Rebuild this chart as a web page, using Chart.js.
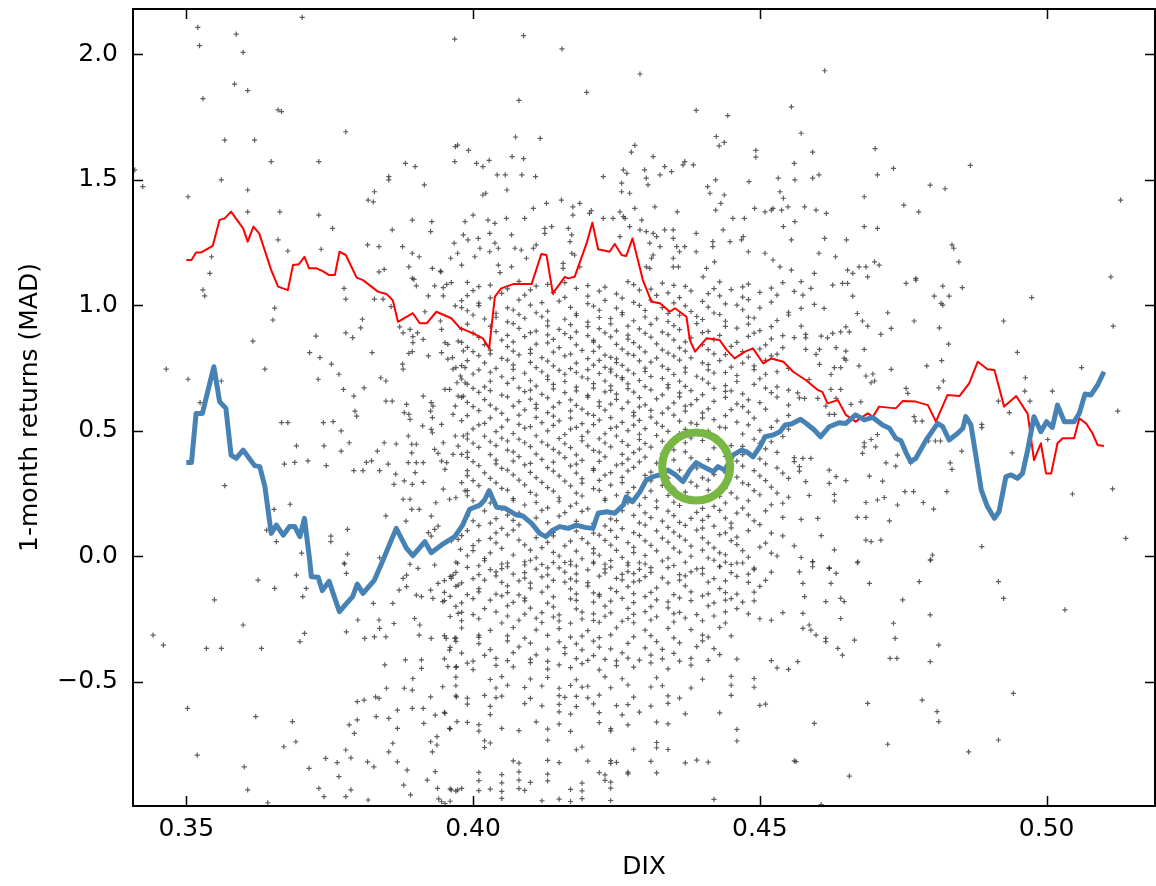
<!DOCTYPE html>
<html>
<head>
<meta charset="utf-8">
<title>DIX vs 1-month returns</title>
<script src="https://cdn.jsdelivr.net/npm/chart.js@4.4.1/dist/chart.umd.min.js"></script>
<style>
  html, body { margin: 0; padding: 0; background: #fff; }
  #wrap { width: 1156px; height: 886px; }
</style>
</head>
<body>
<div id="wrap"><canvas id="myChart" width="1156" height="886"></canvas></div>
<script>
// ticks
const xTicks = [0.35, 0.40, 0.45, 0.50];
const xTickLabels = ['0.35', '0.40', '0.45', '0.50'];
const yTicks = [-0.5, 0.0, 0.5, 1.0, 1.5, 2.0];
const yTickLabels = ['\u22120.5', '0.0', '0.5', '1.0', '1.5', '2.0'];

// red rolling line
const redDix = [0.350,0.3509,0.3517,0.3526,0.3546,0.3558,0.3567,0.3578,0.3599,0.3607,0.3617,0.3627,0.3648,0.366,0.3677,0.3686,0.3696,0.3706,0.3714,0.3727,0.3737,0.3749,0.3759,0.3767,0.3778,0.3797,0.3808,0.3834,0.3849,0.386,0.3869,0.3895,0.3907,0.3919,0.3936,0.3962,0.3977,0.400,0.4017,0.4028,0.4038,0.4049,0.407,0.4102,0.4119,0.4128,0.4139,0.416,0.4166,0.4177,0.4198,0.4208,0.4218,0.4238,0.4247,0.4259,0.4267,0.4278,0.4296,0.4311,0.4326,0.4343,0.4352,0.4372,0.4378,0.4387,0.4407,0.443,0.4442,0.4456,0.4474,0.4488,0.4506,0.452,0.4541,0.4558,0.458,0.4601,0.4609,0.4618,0.4636,0.465,0.4667,0.4688,0.4697,0.4708,0.4737,0.4749,0.4772,0.4793,0.4807,0.4827,0.4848,0.4865,0.488,0.4897,0.4909,0.4926,0.4947,0.4967,0.4978,0.499,0.4999,0.5008,0.5019,0.5028,0.5048,0.5057,0.5069,0.508,0.5089,0.510];
const redReturns = [1.18,1.18,1.21,1.21,1.236,1.34,1.346,1.373,1.306,1.253,1.313,1.286,1.14,1.074,1.06,1.16,1.163,1.193,1.147,1.147,1.137,1.12,1.12,1.213,1.20,1.11,1.10,1.054,1.045,1.02,0.934,0.968,0.928,0.928,0.974,0.948,0.91,0.888,0.868,0.828,1.034,1.067,1.084,1.084,1.204,1.20,1.047,1.113,1.107,1.113,1.247,1.329,1.223,1.213,1.244,1.20,1.196,1.266,1.10,1.014,1.008,0.974,0.988,0.954,0.861,0.815,0.868,0.861,0.822,0.788,0.815,0.828,0.768,0.788,0.775,0.735,0.702,0.662,0.655,0.609,0.622,0.563,0.536,0.569,0.556,0.596,0.589,0.618,0.616,0.602,0.536,0.642,0.638,0.689,0.775,0.745,0.742,0.596,0.638,0.567,0.383,0.45,0.33,0.33,0.45,0.47,0.47,0.549,0.529,0.49,0.443,0.439];

// blue rolling line
const blueDix = [0.350,0.3509,0.3517,0.3528,0.3548,0.3558,0.3569,0.3578,0.3587,0.3599,0.3619,0.3628,0.3637,0.3648,0.3657,0.3669,0.368,0.3689,0.3698,0.3706,0.3715,0.3718,0.373,0.3737,0.3749,0.3756,0.3767,0.3782,0.379,0.3798,0.3808,0.3828,0.3843,0.3866,0.3884,0.3895,0.3916,0.3927,0.3945,0.3968,0.3982,0.3994,0.4012,0.402,0.4028,0.4041,0.4056,0.4076,0.4087,0.4102,0.4116,0.4127,0.4139,0.4151,0.4166,0.418,0.4195,0.4209,0.4218,0.4233,0.4247,0.4262,0.4267,0.4278,0.4291,0.4302,0.4314,0.4326,0.434,0.4353,0.4366,0.4378,0.4389,0.4401,0.4419,0.4427,0.4439,0.4453,0.4468,0.4477,0.4488,0.45,0.4509,0.4523,0.4535,0.4544,0.4555,0.4571,0.4581,0.4595,0.4606,0.4621,0.4638,0.465,0.4667,0.4682,0.4697,0.4714,0.4726,0.4737,0.4746,0.4755,0.4763,0.4772,0.479,0.481,0.4819,0.483,0.4845,0.4854,0.4859,0.4868,0.4877,0.4886,0.4897,0.4909,0.4917,0.4929,0.4938,0.4949,0.4958,0.4967,0.4978,0.499,0.50,0.501,0.5019,0.5031,0.5048,0.5057,0.5067,0.5077,0.5089,0.510];
const blueReturns = [0.373,0.373,0.569,0.569,0.755,0.616,0.589,0.403,0.39,0.423,0.361,0.357,0.277,0.091,0.124,0.084,0.118,0.118,0.078,0.151,-0.015,-0.082,-0.084,-0.137,-0.10,-0.148,-0.221,-0.181,-0.161,-0.111,-0.148,-0.095,-0.015,0.111,0.031,0.002,0.058,0.014,0.045,0.078,0.125,0.187,0.204,0.224,0.261,0.195,0.191,0.164,0.16,0.131,0.091,0.078,0.104,0.118,0.111,0.124,0.115,0.111,0.171,0.177,0.171,0.204,0.237,0.217,0.257,0.304,0.317,0.324,0.343,0.324,0.297,0.343,0.373,0.357,0.337,0.357,0.343,0.403,0.423,0.416,0.396,0.436,0.476,0.483,0.496,0.523,0.527,0.546,0.529,0.503,0.476,0.516,0.532,0.529,0.563,0.543,0.553,0.523,0.51,0.47,0.46,0.412,0.377,0.39,0.463,0.529,0.516,0.463,0.49,0.51,0.556,0.523,0.396,0.264,0.197,0.151,0.177,0.317,0.324,0.31,0.33,0.423,0.556,0.496,0.536,0.513,0.602,0.536,0.536,0.569,0.646,0.642,0.682,0.735];

// green highlight circle
const circleDix = [0.4389];
const circleReturns = [0.357];

// daily observations [DIX, 1-month return]
const scatterPoints = [
[0.3520,2.107],[0.3523,2.034],[0.3587,2.08],[0.3599,2.007],[0.3584,1.881],[0.3607,1.855],[0.3529,1.823],[0.366,1.778],[0.3666,1.771],[0.3567,1.658],[0.3619,1.658],[0.3778,1.691],[0.3702,2.147],[0.3968,2.06],[0.3648,1.572],[0.3731,1.572],[0.3561,1.499],[0.3607,1.459],[0.3503,1.432],[0.3424,1.472],[0.341,1.539],[0.3607,1.372],[0.3663,1.372],[0.3731,1.359],[0.3755,1.306],[0.366,1.26],[0.3677,1.216],[0.3735,1.223],[0.3544,1.193],[0.3541,1.127],
[0.3817,1.419],[0.3826,1.412],[0.3828,1.452],[0.3853,1.512],[0.3853,1.499],[0.3882,1.565],[0.3899,1.552],[0.3915,1.479],[0.3968,1.572],[0.3969,1.632],[0.3973,1.638],[0.3859,1.30],[0.3894,1.339],[0.3928,1.333],[0.3926,1.293],[0.3816,1.24],[0.3836,1.233],[0.3877,1.233],[0.3894,1.207],[0.3906,1.193],[0.3961,1.187],[0.3967,1.247],[0.3973,1.207],[0.3836,1.133],[0.3845,1.143],[0.3888,1.153],[0.3929,1.147],[0.3944,1.133],[0.3894,1.107],
[0.4088,2.074],[0.4155,2.021],[0.4291,1.921],[0.4198,1.848],[0.408,1.816],[0.4389,1.776],[0.4444,1.755],[0.4555,1.79],[0.4572,1.685],[0.4074,1.67],[0.4117,1.665],[0.3992,1.617],[0.4006,1.565],[0.4017,1.552],[0.4028,1.577],[0.4068,1.592],[0.4088,1.584],[0.4042,1.519],[0.4056,1.519],[0.4085,1.519],[0.4109,1.512],[0.4059,1.459],[0.4017,1.439],[0.4022,1.446],
[0.4282,1.637],[0.4276,1.61],[0.4314,1.592],[0.4227,1.512],[0.4262,1.539],[0.4268,1.525],[0.4259,1.486],[0.4259,1.452],[0.4273,1.446],[0.4299,1.539],[0.4302,1.506],[0.4305,1.479],[0.4326,1.519],[0.4334,1.552],[0.4346,1.532],[0.4366,1.559],[0.4369,1.572],[0.4384,1.559],[0.4424,1.672],[0.4429,1.635],[0.4438,1.649],[0.4493,1.617],[0.4493,1.59],[0.456,1.565],[0.4481,1.492],[0.4409,1.472],[0.4413,1.446],[0.4423,1.499],[0.4438,1.439],[0.4432,1.406],[0.4423,1.379],[0.4356,1.372],[0.4317,1.392],[0.4294,1.339],[0.4282,1.386],[0.4256,1.372],[0.4262,1.353],[0.4206,1.377],[0.4203,1.366],[0.4186,1.406],[0.4174,1.392],[0.4174,1.359],[0.4154,1.419],[0.4128,1.406],[0.4105,1.386],[0.409,1.346],[0.4058,1.346],[0.4038,1.326],[0.4026,1.339],[0.400,1.359],[0.3986,1.333],
[0.4067,1.28],[0.4029,1.286],[0.3983,1.28],[0.3991,1.26],[0.4009,1.266],[0.4012,1.227],[0.4038,1.247],[0.4044,1.227],[0.4029,1.213],[0.4073,1.227],[0.4084,1.22],[0.4105,1.227],[0.411,1.24],[0.4093,1.187],[0.4067,1.153],[0.4044,1.16],[0.4047,1.13],[0.4003,1.193],[0.398,1.16],[0.4125,1.306],[0.4125,1.286],[0.4137,1.313],[0.4166,1.306],[0.4172,1.28],[0.4169,1.253],[0.4172,1.207],[0.4177,1.20],[0.4157,1.167],[0.4157,1.147],[0.4186,1.153],
[0.4227,1.346],[0.4244,1.346],[0.4256,1.273],[0.4265,1.346],[0.4273,1.313],[0.4291,1.30],[0.4302,1.293],[0.4308,1.247],[0.4314,1.286],[0.432,1.273],[0.4326,1.233],[0.4314,1.20],[0.4311,1.187],[0.4302,1.153],[0.4308,1.147],[0.4334,1.30],[0.4349,1.30],[0.4349,1.266],[0.4355,1.233],[0.4369,1.233],[0.4349,1.187],[0.4349,1.153],[0.4358,1.153],[0.436,1.213],[0.4389,1.286],[0.4407,1.147],[0.4418,1.253],[0.4418,1.233],[0.4421,1.173],[0.4436,1.30],[0.4453,1.346],[0.4448,1.253],[0.4468,1.26],[0.4471,1.273],[0.448,1.213],[0.4509,1.207],[0.4523,1.18],[0.4535,1.153],[0.4555,1.14],[0.4541,1.313],[0.4561,1.333],[0.4555,1.26],[0.452,1.379],[0.4523,1.386],[0.4541,1.426],[0.4535,1.452],[0.4549,1.392],[0.4538,1.379],[0.4561,1.499],[0.4532,1.506],[0.4509,1.372],[0.4491,1.386],[0.4473,1.346],[0.4389,1.213],[0.4401,1.113],
[0.4613,1.934],[0.4701,1.624],[0.4592,1.61],[0.4592,1.506],[0.4603,1.519],[0.4705,1.519],[0.4733,1.545],[0.4867,1.557],[0.4797,1.478],[0.4823,1.464],[0.4682,1.432],[0.4578,1.392],[0.4598,1.379],[0.4616,1.366],[0.4751,1.399],[0.4777,1.372],[0.5129,1.419],[0.4682,1.313],[0.4705,1.306],[0.4613,1.266],[0.4651,1.26],[0.4603,1.207],[0.4632,1.193],[0.4835,1.24],[0.4838,1.227],[0.4847,1.173],[0.4653,1.14],[0.4662,1.127],[0.4673,1.153],[0.4685,1.153],[0.4688,1.113],[0.470,1.173],[0.4708,1.16],[0.4595,1.127],[0.4772,1.107],[0.5112,1.113],
[0.3529,1.061],[0.3532,1.037],[0.3654,0.988],[0.3651,0.941],[0.3616,0.857],[0.3465,0.745],[0.3503,0.705],[0.3561,0.698],[0.3637,0.745],[0.3524,0.612],[0.3666,0.532],[0.3677,0.532],[0.3567,0.281],[0.3692,0.44],[0.3671,0.367],[0.3689,0.374],[0.3712,0.38],[0.3744,0.361],[0.3739,0.532],[0.3756,0.536],[0.377,0.499],[0.3784,0.452],[0.377,0.419],[0.374,0.44],[0.3715,0.811],[0.3733,0.791],[0.3726,0.877],[0.373,0.705],[0.3753,0.765],[0.3766,0.725],[0.3775,1.067],[0.3778,1.024],[0.3807,0.944],[0.3804,0.91],[0.3778,0.89],[0.379,0.871],[0.3824,0.811],[0.3828,1.024],[0.3843,1.024],[0.3857,0.994],
[0.3774,0.665],[0.3792,0.638],[0.381,0.671],[0.3794,0.578],[0.3797,0.558],[0.3839,0.711],[0.3848,0.698],[0.3848,0.618],[0.3859,0.618],[0.3814,0.374],[0.3823,0.38],[0.3837,0.341],[0.3808,0.341],[0.3792,0.341],[0.3845,0.452],[0.3833,0.419],[0.3866,0.447],[0.3852,0.367],[0.3865,0.327],[0.3862,0.286],[0.388,0.30],[0.3894,0.286],[0.3913,0.294],[0.3878,0.227],[0.389,0.227],[0.3893,0.187],[0.3848,0.161],[0.3883,0.14],[0.3906,0.187],[0.3899,0.333],[0.3913,0.373],[0.3901,0.373],[0.3887,0.373],[0.3893,0.412],[0.3893,0.446],[0.3901,0.446],[0.3887,0.479],[0.389,0.545],[0.3888,0.565],[0.388,0.572],[0.3884,0.605],[0.3913,0.638],[0.3927,0.612],[0.393,0.598],[0.3926,0.578],[0.3929,0.552],[0.3912,0.519],[0.3927,0.505],[0.3929,0.492],[0.3945,0.525],
[0.3948,0.452],[0.3933,0.426],[0.3939,0.41],[0.3945,0.379],[0.3954,0.373],[0.3965,0.406],[0.3974,0.439],[0.398,0.406],[0.3969,0.479],[0.3983,0.479],[0.3951,0.346],[0.3948,0.267],[0.3959,0.227],[0.397,0.233],[0.398,0.293],[0.3986,0.26],[0.3935,0.213],[0.3927,0.16],[0.3939,0.12],[0.3933,0.107],[0.3922,0.094],[0.3927,0.08],[0.3974,0.067],[0.3962,0.061],[0.3978,0.027],[0.3973,-0.028],[0.3933,-0.035],[0.3904,-0.048],[0.389,-0.032],[0.3837,-0.006],[0.3752,0.08],[0.3752,0.058],[0.3781,0.107],[0.3781,0.008],[0.3775,-0.028],[0.3701,0.012],[0.3681,0.207],[0.3653,0.187],[0.364,0.104],[0.3657,0.058],
[0.3903,0.89],[0.3895,0.875],[0.3895,0.851],[0.389,0.904],[0.3878,0.89],[0.3872,0.914],[0.3894,0.815],[0.3888,0.808],[0.3877,0.765],[0.3878,0.745],[0.3901,1.077],[0.3897,1.103],[0.3922,1.037],[0.3933,1.077],[0.3948,1.037],[0.3948,1.07],[0.3954,1.083],[0.3962,1.09],[0.3943,1.136],[0.3969,0.997],[0.398,0.99],[0.3943,0.937],[0.3945,0.904],[0.3951,0.851],[0.3956,0.844],[0.3974,0.857],[0.3983,0.818],[0.3945,0.811],[0.3956,0.785],[0.3964,0.791],[0.397,0.751],[0.3965,0.745],[0.3986,0.751],[0.3978,0.718],[0.3972,0.691],[0.3986,0.691],[0.3951,0.665],[0.3959,0.665],[0.3969,0.598],[0.3965,0.565],[0.3974,0.638],[0.3983,0.638],[0.3922,0.798],[0.3913,0.864],[0.3916,0.974],
[0.399,1.091],[0.403,1.080],[0.408,1.095],[0.413,1.083],[0.416,1.090],[0.420,1.078],[0.427,1.094],[0.428,1.082],[0.433,1.088],[0.435,1.079],[0.443,1.093],[0.448,1.084],[0.454,1.090],
[0.400,1.058],[0.405,1.047],[0.410,1.061],[0.414,1.050],[0.422,1.056],[0.425,1.045],[0.429,1.060],[0.434,1.049],[0.438,1.057],[0.441,1.046],[0.445,1.062],[0.450,1.051],[0.456,1.055],
[0.398,1.018],[0.401,1.008],[0.408,1.021],[0.412,1.010],[0.415,1.016],[0.420,1.006],[0.423,1.019],[0.428,1.011],[0.431,1.020],[0.435,1.009],[0.440,1.015],[0.444,1.005],[0.448,1.022],[0.452,1.012],
[0.399,0.978],[0.404,0.968],[0.407,0.981],[0.411,0.970],[0.413,0.976],[0.418,0.966],[0.422,0.980],[0.426,0.971],[0.430,0.979],[0.434,0.967],[0.438,0.975],[0.442,0.969],[0.447,0.982],[0.455,0.972],
[0.402,0.945],[0.406,0.934],[0.409,0.948],[0.413,0.937],[0.416,0.944],[0.420,0.933],[0.424,0.947],[0.428,0.938],[0.432,0.946],[0.434,0.935],[0.440,0.943],[0.444,0.936],[0.449,0.949],[0.453,0.939],
[0.398,0.905],[0.404,0.895],[0.408,0.908],[0.411,0.897],[0.415,0.904],[0.418,0.894],[0.422,0.907],[0.425,0.898],[0.429,0.906],[0.433,0.893],[0.436,0.903],[0.441,0.896],[0.446,0.909],[0.450,0.899],
[0.401,0.872],[0.405,0.861],[0.409,0.875],[0.414,0.864],[0.417,0.871],[0.421,0.860],[0.424,0.874],[0.427,0.865],[0.431,0.873],[0.435,0.862],[0.438,0.870],[0.442,0.863],[0.448,0.876],[0.452,0.866],[0.456,0.871],
[0.399,0.832],[0.403,0.821],[0.406,0.835],[0.410,0.824],[0.415,0.831],[0.419,0.820],[0.422,0.834],[0.426,0.825],[0.429,0.833],[0.433,0.822],[0.436,0.830],[0.441,0.823],[0.445,0.836],[0.450,0.826],[0.454,0.831],
[0.401,0.799],[0.405,0.788],[0.408,0.802],[0.412,0.791],[0.416,0.798],[0.420,0.787],[0.423,0.801],[0.424,0.792],[0.425,0.786],[0.428,0.800],[0.432,0.789],[0.435,0.797],[0.438,0.790],[0.444,0.803],[0.448,0.793],[0.452,0.798],
[0.398,0.759],[0.404,0.748],[0.407,0.762],[0.411,0.751],[0.414,0.758],[0.417,0.747],[0.421,0.761],[0.423,0.752],[0.424,0.745],[0.426,0.760],[0.430,0.749],[0.433,0.757],[0.437,0.750],[0.441,0.763],[0.445,0.753],[0.449,0.758],[0.455,0.748],
[0.400,0.726],[0.405,0.715],[0.409,0.729],[0.413,0.718],[0.416,0.725],[0.419,0.714],[0.422,0.728],[0.425,0.719],[0.426,0.712],[0.428,0.727],[0.431,0.716],[0.435,0.724],[0.439,0.717],[0.442,0.730],[0.446,0.720],[0.451,0.725],
[0.399,0.686],[0.402,0.675],[0.406,0.689],[0.411,0.678],[0.414,0.685],[0.418,0.674],[0.421,0.688],[0.424,0.679],[0.427,0.687],[0.430,0.676],[0.434,0.684],[0.437,0.677],[0.441,0.690],[0.444,0.680],[0.449,0.685],[0.453,0.675],
[0.401,0.653],[0.405,0.642],[0.409,0.656],[0.412,0.645],[0.416,0.652],[0.420,0.641],[0.423,0.655],[0.425,0.646],[0.428,0.654],[0.433,0.643],[0.436,0.651],[0.440,0.644],[0.444,0.657],[0.447,0.647],[0.452,0.652],
[0.399,0.613],[0.403,0.602],[0.408,0.616],[0.411,0.605],[0.415,0.612],[0.418,0.601],[0.422,0.615],[0.424,0.606],[0.427,0.614],[0.430,0.603],[0.435,0.611],[0.438,0.604],[0.442,0.617],[0.446,0.607],[0.450,0.612],[0.455,0.602],
[0.401,0.580],[0.405,0.569],[0.409,0.583],[0.413,0.572],[0.417,0.579],[0.420,0.568],[0.423,0.582],[0.428,0.573],[0.431,0.581],[0.433,0.570],[0.437,0.578],[0.440,0.571],[0.445,0.584],[0.448,0.574],
[0.398,0.540],[0.402,0.529],[0.406,0.543],[0.412,0.532],[0.415,0.539],[0.419,0.528],[0.422,0.542],[0.426,0.533],[0.429,0.541],[0.432,0.530],[0.436,0.538],[0.438,0.531],[0.442,0.544],[0.446,0.534],[0.453,0.539],
[0.400,0.507],[0.404,0.496],[0.409,0.510],[0.413,0.499],[0.417,0.506],[0.420,0.495],[0.424,0.509],[0.427,0.500],[0.430,0.508],[0.434,0.497],[0.437,0.505],[0.441,0.498],[0.444,0.511],[0.450,0.501],[0.455,0.506],
[0.399,0.467],[0.403,0.456],[0.405,0.470],[0.406,0.459],[0.408,0.466],[0.412,0.455],[0.415,0.469],[0.419,0.460],[0.422,0.468],[0.426,0.457],[0.429,0.465],[0.433,0.458],[0.438,0.471],[0.440,0.461],[0.449,0.466],[0.452,0.456],
[0.401,0.434],[0.406,0.423],[0.410,0.437],[0.414,0.426],[0.417,0.433],[0.421,0.422],[0.424,0.436],[0.429,0.427],[0.431,0.435],[0.435,0.424],[0.442,0.432],[0.444,0.425],[0.447,0.438],[0.451,0.428],
[0.399,0.394],[0.404,0.383],[0.408,0.397],[0.412,0.386],[0.416,0.393],[0.419,0.382],[0.423,0.396],[0.427,0.387],[0.430,0.395],[0.435,0.384],[0.438,0.392],[0.441,0.385],[0.444,0.398],[0.450,0.388],[0.456,0.393],
[0.401,0.361],[0.405,0.350],[0.409,0.364],[0.413,0.353],[0.417,0.360],[0.421,0.349],[0.425,0.363],[0.428,0.354],[0.433,0.362],[0.439,0.351],[0.447,0.359],[0.453,0.352],
[0.399,0.321],[0.403,0.310],[0.407,0.324],[0.411,0.313],[0.415,0.320],[0.419,0.309],[0.423,0.323],[0.426,0.314],[0.430,0.322],[0.434,0.311],[0.437,0.319],[0.440,0.312],[0.442,0.325],[0.446,0.315],[0.450,0.320],[0.455,0.310],
[0.401,0.281],[0.405,0.270],[0.409,0.284],[0.413,0.273],[0.417,0.280],[0.421,0.269],[0.424,0.283],[0.428,0.274],[0.433,0.282],[0.435,0.271],[0.439,0.279],[0.444,0.272],[0.448,0.285],[0.452,0.275],
[0.399,0.241],[0.407,0.230],[0.411,0.244],[0.415,0.233],[0.419,0.240],[0.423,0.229],[0.425,0.243],[0.430,0.234],[0.434,0.242],[0.438,0.231],[0.443,0.239],[0.446,0.232],[0.450,0.245],[0.455,0.235],
[0.401,0.201],[0.405,0.190],[0.409,0.204],[0.413,0.193],[0.417,0.200],[0.420,0.189],[0.429,0.203],[0.432,0.194],[0.436,0.202],[0.440,0.191],[0.442,0.199],[0.447,0.192],[0.452,0.205],
[0.399,0.161],[0.404,0.150],[0.406,0.164],[0.411,0.153],[0.415,0.160],[0.424,0.149],[0.428,0.163],[0.431,0.154],[0.435,0.162],[0.438,0.151],[0.441,0.159],[0.444,0.152],[0.448,0.165],[0.454,0.155],
[0.401,0.122],[0.405,0.111],[0.408,0.125],[0.416,0.114],[0.423,0.121],[0.426,0.110],[0.430,0.124],[0.434,0.115],[0.437,0.123],[0.440,0.112],[0.442,0.120],[0.445,0.113],[0.450,0.126],
[0.398,0.082],[0.403,0.071],[0.406,0.085],[0.411,0.074],[0.414,0.081],[0.419,0.070],[0.422,0.084],[0.425,0.075],[0.429,0.083],[0.433,0.072],[0.436,0.080],[0.440,0.073],[0.443,0.086],[0.446,0.076],[0.454,0.081],
[0.400,0.042],[0.405,0.031],[0.409,0.045],[0.412,0.034],[0.416,0.041],[0.421,0.030],[0.424,0.044],[0.428,0.035],[0.431,0.043],[0.435,0.032],[0.438,0.040],[0.442,0.033],[0.446,0.046],[0.450,0.036],[0.456,0.041],
[0.399,0.002],[0.402,-0.009],[0.407,0.005],[0.411,-0.006],[0.415,0.001],[0.419,-0.010],[0.422,0.004],[0.426,-0.005],[0.430,0.003],[0.434,-0.008],[0.438,0.000],[0.441,-0.007],[0.444,0.006],[0.448,-0.004],[0.453,0.001],
[0.401,-0.038],[0.405,-0.049],[0.409,-0.035],[0.413,-0.046],[0.418,-0.039],[0.423,-0.050],[0.427,-0.036],[0.431,-0.045],[0.435,-0.037],[0.440,-0.048],[0.443,-0.040],[0.449,-0.047],
[0.401,1.074],[0.406,1.065],[0.411,1.076],[0.418,1.067],[0.423,1.072],[0.431,1.064],[0.437,1.075],[0.442,1.066],[0.447,1.073],[0.452,1.068],
[0.399,1.038],[0.403,1.029],[0.409,1.040],[0.416,1.031],[0.420,1.036],[0.426,1.028],[0.432,1.039],[0.436,1.030],[0.443,1.037],[0.447,1.032],[0.453,1.040],
[0.401,0.998],[0.406,0.989],[0.410,1.000],[0.417,0.991],[0.421,0.996],[0.425,0.988],[0.429,0.999],[0.433,0.990],[0.437,0.997],[0.441,0.992],[0.446,1.000],[0.450,0.989],
[0.400,0.961],[0.404,0.952],[0.408,0.963],[0.412,0.954],[0.418,0.959],[0.422,0.951],[0.426,0.962],[0.430,0.953],[0.436,0.960],[0.439,0.955],[0.443,0.963],[0.448,0.952],[0.455,0.961],
[0.399,0.925],[0.403,0.916],[0.407,0.927],[0.413,0.918],[0.417,0.923],[0.420,0.915],[0.424,0.926],[0.427,0.917],[0.431,0.924],[0.435,0.919],[0.439,0.927],[0.444,0.916],[0.448,0.925],[0.452,0.915],
[0.400,0.889],[0.406,0.880],[0.410,0.891],[0.413,0.882],[0.416,0.887],[0.420,0.879],[0.423,0.890],[0.427,0.881],[0.430,0.888],[0.434,0.883],[0.440,0.891],[0.443,0.880],[0.449,0.889],[0.454,0.879],
[0.398,0.852],[0.402,0.843],[0.407,0.854],[0.411,0.845],[0.413,0.850],[0.418,0.842],[0.421,0.853],[0.425,0.844],[0.428,0.851],[0.432,0.846],[0.437,0.854],[0.440,0.843],[0.446,0.852],[0.451,0.842],
[0.400,0.815],[0.403,0.806],[0.407,0.817],[0.410,0.808],[0.414,0.813],[0.417,0.805],[0.421,0.816],[0.427,0.807],[0.430,0.814],[0.434,0.809],[0.437,0.817],[0.442,0.806],[0.447,0.815],[0.453,0.805],
[0.399,0.779],[0.402,0.770],[0.406,0.781],[0.410,0.772],[0.413,0.777],[0.418,0.769],[0.422,0.780],[0.425,0.771],[0.429,0.778],[0.431,0.773],[0.436,0.781],[0.440,0.770],[0.443,0.779],[0.447,0.769],[0.451,0.780],
[0.401,0.742],[0.403,0.733],[0.407,0.744],[0.412,0.735],[0.415,0.740],[0.418,0.732],[0.420,0.743],[0.424,0.734],[0.427,0.741],[0.430,0.736],[0.434,0.744],[0.437,0.733],[0.441,0.742],[0.444,0.732],[0.449,0.743],[0.453,0.735],
[0.398,0.706],[0.403,0.697],[0.407,0.708],[0.410,0.699],[0.413,0.704],[0.416,0.696],[0.420,0.707],[0.423,0.698],[0.426,0.705],[0.429,0.700],[0.433,0.708],[0.436,0.697],[0.440,0.706],[0.446,0.696],[0.450,0.707],
[0.400,0.669],[0.403,0.660],[0.408,0.671],[0.410,0.662],[0.414,0.667],[0.418,0.659],[0.421,0.670],[0.424,0.661],[0.427,0.668],[0.431,0.663],[0.434,0.671],[0.438,0.660],[0.442,0.669],[0.445,0.659],[0.451,0.670],[0.455,0.662],
[0.398,0.633],[0.402,0.624],[0.406,0.635],[0.410,0.626],[0.413,0.631],[0.417,0.623],[0.420,0.634],[0.425,0.625],[0.429,0.632],[0.432,0.627],[0.436,0.635],[0.439,0.624],[0.444,0.633],[0.448,0.623],[0.453,0.634],
[0.400,0.596],[0.404,0.587],[0.407,0.598],[0.411,0.589],[0.414,0.594],[0.419,0.586],[0.422,0.597],[0.426,0.588],[0.429,0.595],[0.434,0.590],[0.437,0.598],[0.441,0.587],[0.447,0.596],[0.451,0.586],
[0.399,0.560],[0.403,0.551],[0.408,0.562],[0.411,0.553],[0.414,0.558],[0.417,0.550],[0.421,0.561],[0.424,0.552],[0.428,0.559],[0.431,0.554],[0.435,0.562],[0.440,0.551],[0.444,0.560],[0.449,0.550],[0.455,0.561],
[0.401,0.523],[0.405,0.514],[0.408,0.525],[0.410,0.516],[0.414,0.521],[0.418,0.513],[0.421,0.524],[0.425,0.515],[0.428,0.522],[0.433,0.517],[0.439,0.525],[0.443,0.514],[0.448,0.523],[0.452,0.513],
[0.399,0.487],[0.402,0.478],[0.407,0.489],[0.411,0.480],[0.416,0.485],[0.419,0.477],[0.423,0.488],[0.425,0.479],[0.429,0.486],[0.432,0.481],[0.436,0.489],[0.442,0.478],[0.447,0.487],[0.454,0.477],
[0.400,0.450],[0.404,0.441],[0.409,0.452],[0.413,0.443],[0.416,0.448],[0.420,0.440],[0.423,0.451],[0.427,0.442],[0.430,0.449],[0.434,0.444],[0.437,0.452],[0.445,0.441],[0.450,0.450],
[0.399,0.414],[0.403,0.405],[0.407,0.416],[0.411,0.407],[0.415,0.412],[0.418,0.404],[0.422,0.415],[0.426,0.406],[0.428,0.413],[0.433,0.408],[0.437,0.416],[0.447,0.405],[0.453,0.414],
[0.400,0.377],[0.404,0.368],[0.407,0.379],[0.410,0.370],[0.414,0.375],[0.418,0.367],[0.422,0.378],[0.426,0.369],[0.429,0.376],[0.432,0.371],[0.446,0.379],[0.451,0.368],[0.456,0.377],
[0.399,0.341],[0.402,0.332],[0.406,0.343],[0.410,0.334],[0.414,0.339],[0.418,0.331],[0.421,0.342],[0.424,0.333],[0.427,0.340],[0.431,0.335],[0.436,0.343],[0.444,0.332],[0.449,0.341],[0.454,0.331],
[0.400,0.301],[0.404,0.292],[0.408,0.303],[0.412,0.294],[0.416,0.299],[0.419,0.291],[0.422,0.302],[0.426,0.293],[0.431,0.300],[0.438,0.295],[0.441,0.303],[0.447,0.292],[0.451,0.301],
[0.399,0.261],[0.403,0.252],[0.406,0.263],[0.410,0.254],[0.414,0.259],[0.418,0.251],[0.422,0.262],[0.427,0.253],[0.431,0.260],[0.437,0.255],[0.441,0.263],[0.445,0.252],[0.449,0.261],[0.453,0.251],
[0.400,0.221],[0.403,0.212],[0.407,0.223],[0.411,0.214],[0.415,0.219],[0.418,0.211],[0.423,0.222],[0.427,0.213],[0.432,0.220],[0.435,0.215],[0.439,0.223],[0.444,0.212],[0.448,0.221],[0.454,0.211],
[0.402,0.181],[0.408,0.172],[0.412,0.183],[0.416,0.174],[0.419,0.179],[0.422,0.171],[0.426,0.182],[0.430,0.173],[0.434,0.180],[0.439,0.175],[0.443,0.183],[0.446,0.172],[0.451,0.181],
[0.400,0.141],[0.403,0.132],[0.407,0.143],[0.413,0.134],[0.418,0.139],[0.421,0.131],[0.425,0.142],[0.429,0.133],[0.433,0.140],[0.436,0.135],[0.440,0.143],[0.445,0.132],[0.449,0.141],
[0.399,0.102],[0.404,0.093],[0.407,0.104],[0.414,0.095],[0.418,0.100],[0.421,0.092],[0.424,0.103],[0.428,0.094],[0.432,0.101],[0.435,0.096],[0.439,0.104],[0.444,0.093],[0.448,0.102],[0.452,0.092],
[0.401,0.062],[0.404,0.053],[0.408,0.064],[0.413,0.055],[0.417,0.060],[0.420,0.052],[0.423,0.063],[0.427,0.054],[0.430,0.061],[0.434,0.056],[0.437,0.064],[0.441,0.053],[0.445,0.062],[0.451,0.052],
[0.400,0.022],[0.403,0.013],[0.410,0.024],[0.414,0.015],[0.418,0.020],[0.421,0.012],[0.425,0.023],[0.428,0.014],[0.432,0.021],[0.436,0.016],[0.440,0.024],[0.443,0.013],[0.447,0.022],[0.452,0.012],
[0.402,-0.018],[0.406,-0.027],[0.410,-0.016],[0.414,-0.025],[0.417,-0.020],[0.421,-0.028],[0.424,-0.017],[0.429,-0.026],[0.433,-0.019],[0.437,-0.024],[0.442,-0.016],[0.447,-0.027],
[0.4572,1.094],[0.4589,1.067],[0.4575,1.04],[0.4627,1.08],[0.4644,1.087],[0.4653,1.087],[0.4662,1.036],[0.4595,1.003],[0.4572,0.987],[0.4612,0.987],[0.467,0.967],[0.4679,0.937],[0.4688,0.917],[0.4723,0.97],[0.4729,0.908],[0.4711,0.884],[0.4755,1.087],[0.4772,1.10],[0.4819,1.076],[0.4804,1.036],[0.483,1.036],[0.4816,1.007],[0.4819,1.0],[0.4853,1.07],[0.4769,0.937],[0.4813,0.91],[0.4974,1.03],[0.4925,0.937],[0.5116,0.917],
[0.4572,0.917],[0.458,0.884],[0.458,0.87],[0.4607,0.877],[0.4618,0.87],[0.4627,0.888],[0.4641,0.894],[0.465,0.914],[0.4656,0.894],[0.4633,0.831],[0.465,0.817],[0.4598,0.804],[0.458,0.824],[0.4604,0.824],[0.4647,0.788],[0.465,0.781],[0.4604,0.764],[0.4641,0.751],[0.463,0.751],[0.4682,0.824],[0.4673,0.758],[0.4685,0.718],[0.4697,0.726],[0.470,0.698],[0.4694,0.691],[0.4729,0.744],[0.4586,0.704],[0.4624,0.724],[0.4641,0.665],[0.4624,0.665],[0.4566,0.651],[0.4569,0.631],[0.4578,0.629],[0.4601,0.629],[0.4633,0.629],[0.4615,0.598],[0.4621,0.565],[0.463,0.565],[0.4659,0.605],[0.4676,0.615],
[0.4755,0.669],[0.4758,0.649],[0.4791,0.758],[0.482,0.698],[0.4812,0.671],[0.4817,0.779],[0.4829,0.845],[0.4949,0.812],[0.4963,0.711],[0.4962,0.658],[0.4971,0.618],[0.501,0.658],[0.5061,0.751],[0.5124,0.578],[0.4916,0.618],[0.4935,0.572],[0.4771,0.538],[0.4783,0.538],[0.4794,0.459],[0.4806,0.459],[0.4815,0.459],[0.4887,0.525],[0.4887,0.512],[0.4852,0.419],[0.4832,0.372],[0.4835,0.346],[0.494,0.412],[0.5002,0.465],[0.5045,0.248],[0.5115,0.268],[0.5138,0.071],[0.4887,0.038],[0.4801,0.005],[0.4798,-0.015],
[0.4737,0.359],[0.4763,0.372],[0.472,0.372],[0.4691,0.319],[0.4714,0.299],[0.4753,0.257],[0.4768,0.257],[0.4785,0.214],[0.4803,0.188],[0.4826,0.257],[0.474,0.204],[0.4717,0.234],[0.4705,0.224],[0.4685,0.214],[0.4685,0.155],[0.467,0.155],[0.4726,0.141],[0.4685,0.064],[0.4694,0.058],[0.4711,0.064],[0.467,-0.026],[0.463,0.025],[0.4621,-0.046],[0.4592,-0.022],[0.4572,-0.005],[0.4607,0.082],[0.4601,0.151],[0.4572,0.147],[0.463,0.22],[0.463,0.246],[0.4586,0.242],[0.4621,0.29],[0.465,0.301],[0.4633,0.317],[0.458,0.297],[0.4569,0.357],[0.4575,0.39],[0.4589,0.39],[0.4569,0.339],[0.4621,0.343],[0.4682,0.452],[0.4694,0.465],[0.4705,0.485],[0.4702,0.436],[0.4682,0.436],[0.4679,0.41],[0.474,0.403],[0.4769,0.556],
[0.3442,-0.314],[0.346,-0.354],[0.3535,-0.367],[0.3561,-0.367],[0.3549,-0.174],[0.3599,-0.274],[0.3631,-0.367],[0.3625,-0.095],[0.3654,-0.128],[0.3692,-0.075],[0.3703,-0.161],[0.3709,-0.128],[0.3706,-0.307],[0.3698,-0.34],[0.3779,-0.301],[0.3776,-0.031],[0.3779,-0.068],[0.3799,-0.254],[0.3811,-0.327],[0.3828,-0.321],[0.3826,-0.188],[0.3836,-0.254],[0.3837,-0.287],[0.3848,-0.321],[0.386,-0.188],[0.3862,-0.268],[0.3871,-0.135],[0.3878,-0.088],[0.3884,-0.075],[0.3884,-0.121],[0.3898,-0.248],[0.3907,-0.274],[0.3901,-0.155],[0.391,-0.161],[0.3926,-0.135],[0.393,-0.168],[0.3939,-0.108],[0.3947,-0.181],[0.3962,-0.088],[0.3965,-0.075],[0.3974,-0.115],
[0.3927,-0.327],[0.3953,-0.327],[0.3968,-0.327],[0.3959,-0.374],[0.3906,-0.314],[0.3846,-0.433],[0.3882,-0.413],[0.391,-0.413],[0.3956,-0.44],[0.3971,-0.44],[0.3849,-0.526],[0.388,-0.526],[0.3894,-0.533],[0.3895,-0.487],[0.391,-0.447],[0.3926,-0.56],[0.3947,-0.52],[0.3971,-0.56],[0.3934,-0.633],[0.3951,-0.626],[0.3959,-0.686],[0.3972,-0.659],[0.3913,-0.606],[0.3914,-0.666],[0.3894,-0.606],[0.3868,-0.613],[0.3853,-0.646],[0.3868,-0.686],[0.386,-0.745],[0.3853,-0.779],[0.3868,-0.819],[0.3885,-0.852],[0.3879,-0.912],[0.3891,-0.951],[0.392,-0.892],[0.3926,-0.739],[0.3929,-0.779],[0.3937,-0.719],[0.3937,-0.752],[0.3934,-0.858],[0.3938,-0.925],[0.3962,-0.931],[0.3973,-0.931],[0.3945,-0.978],[0.3951,-0.985],
[0.3831,-0.639],[0.3836,-0.566],[0.381,-0.573],[0.3798,-0.579],[0.383,-0.56],[0.3784,-0.672],[0.3793,-0.706],[0.3798,-0.652],[0.3778,-0.772],[0.3787,-0.803],[0.3816,-0.819],[0.3827,-0.839],[0.3743,-0.805],[0.3763,-0.822],[0.3766,-0.878],[0.3731,-0.925],[0.374,-0.958],[0.3778,-0.958],[0.3787,-0.931],[0.3817,-0.971],[0.3714,-0.845],[0.3691,-0.739],[0.367,-0.759],[0.3685,-0.659],[0.3621,-0.639],[0.3601,-0.839],[0.3607,-0.931],[0.3502,-0.606],[0.3519,-0.792],[0.3642,-0.982],[0.3974,-0.228],
[0.397,-0.024],[0.405,-0.031],[0.409,-0.022],[0.412,-0.033],[0.416,-0.025],[0.417,-0.034],[0.421,-0.023],[0.423,-0.032],[0.427,-0.026],[0.430,-0.031],[0.444,-0.024],[0.445,-0.033],[0.446,-0.027],
[0.397,-0.064],[0.401,-0.073],[0.404,-0.062],[0.407,-0.071],[0.409,-0.065],[0.413,-0.074],[0.416,-0.063],[0.418,-0.070],[0.423,-0.066],[0.426,-0.072],[0.427,-0.061],[0.428,-0.069],[0.431,-0.064],[0.436,-0.073],[0.438,-0.062],[0.440,-0.070],[0.445,-0.065],[0.448,-0.071],[0.452,-0.063],
[0.395,-0.097],[0.398,-0.106],[0.402,-0.095],[0.405,-0.104],[0.408,-0.098],[0.410,-0.107],[0.414,-0.096],[0.416,-0.103],[0.418,-0.099],[0.420,-0.105],[0.426,-0.094],[0.428,-0.102],[0.429,-0.097],[0.434,-0.106],[0.436,-0.095],[0.441,-0.103],[0.444,-0.098],[0.448,-0.104],[0.451,-0.096],
[0.395,-0.144],[0.399,-0.153],[0.401,-0.142],[0.404,-0.151],[0.406,-0.145],[0.408,-0.154],[0.412,-0.143],[0.418,-0.150],[0.421,-0.146],[0.422,-0.152],[0.425,-0.141],[0.428,-0.149],[0.431,-0.144],[0.435,-0.153],[0.438,-0.142],[0.441,-0.150],[0.444,-0.145],[0.446,-0.151],[0.449,-0.143],
[0.395,-0.177],[0.398,-0.186],[0.403,-0.175],[0.407,-0.184],[0.409,-0.178],[0.413,-0.187],[0.418,-0.176],[0.421,-0.183],[0.424,-0.179],[0.428,-0.185],[0.432,-0.174],[0.434,-0.182],[0.438,-0.177],[0.442,-0.186],[0.444,-0.175],[0.447,-0.183],[0.449,-0.178],
[0.398,-0.224],[0.400,-0.233],[0.404,-0.222],[0.409,-0.231],[0.412,-0.225],[0.415,-0.234],[0.419,-0.223],[0.421,-0.230],[0.424,-0.226],[0.428,-0.232],[0.430,-0.221],[0.435,-0.229],[0.436,-0.224],[0.439,-0.233],[0.444,-0.222],[0.448,-0.230],[0.454,-0.225],
[0.398,-0.257],[0.405,-0.266],[0.408,-0.255],[0.412,-0.264],[0.415,-0.258],[0.417,-0.267],[0.421,-0.256],[0.422,-0.263],[0.426,-0.259],[0.428,-0.265],[0.431,-0.254],[0.435,-0.262],[0.440,-0.257],[0.444,-0.266],[0.452,-0.255],
[0.395,-0.316],[0.397,-0.325],[0.401,-0.314],[0.401,-0.323],[0.406,-0.317],[0.409,-0.326],[0.413,-0.315],[0.417,-0.322],[0.419,-0.318],[0.422,-0.324],[0.424,-0.313],[0.428,-0.321],[0.431,-0.316],[0.435,-0.325],[0.440,-0.314],[0.441,-0.322],[0.445,-0.317],
[0.396,-0.363],[0.403,-0.372],[0.408,-0.361],[0.413,-0.370],[0.416,-0.364],[0.419,-0.373],[0.422,-0.362],[0.424,-0.369],[0.430,-0.365],[0.433,-0.371],[0.439,-0.360],[0.442,-0.368],
[0.395,-0.409],[0.400,-0.418],[0.404,-0.407],[0.406,-0.416],[0.410,-0.410],[0.413,-0.419],[0.418,-0.408],[0.420,-0.415],[0.423,-0.411],[0.425,-0.417],[0.427,-0.406],[0.429,-0.414],[0.433,-0.409],[0.436,-0.418],[0.438,-0.407],[0.441,-0.415],[0.446,-0.410],[0.452,-0.416],
[0.397,-0.443],[0.400,-0.452],[0.407,-0.441],[0.413,-0.450],[0.417,-0.444],[0.422,-0.453],[0.428,-0.442],[0.434,-0.449],[0.453,-0.445],[0.455,-0.451],
[0.397,-0.482],[0.403,-0.491],[0.405,-0.480],[0.410,-0.489],[0.413,-0.483],[0.418,-0.492],[0.423,-0.481],[0.426,-0.488],[0.432,-0.484],[0.440,-0.490],[0.445,-0.479],[0.449,-0.487],
[0.397,-0.516],[0.404,-0.525],[0.406,-0.514],[0.409,-0.523],[0.412,-0.517],[0.415,-0.526],[0.417,-0.515],[0.419,-0.522],[0.420,-0.518],[0.424,-0.524],[0.427,-0.513],[0.431,-0.521],[0.433,-0.516],[0.438,-0.525],[0.445,-0.514],[0.449,-0.522],
[0.397,-0.556],[0.399,-0.565],[0.402,-0.554],[0.404,-0.563],[0.405,-0.557],[0.410,-0.566],[0.415,-0.555],[0.416,-0.562],[0.418,-0.558],[0.420,-0.564],[0.422,-0.553],[0.428,-0.561],[0.434,-0.556],[0.436,-0.565],[0.445,-0.554],
[0.399,-0.589],[0.403,-0.598],[0.409,-0.587],[0.412,-0.596],[0.415,-0.590],[0.418,-0.599],[0.421,-0.588],[0.425,-0.595],[0.427,-0.591],[0.431,-0.597],[0.434,-0.586],[0.450,-0.594],[0.451,-0.589],
[0.395,-0.622],[0.403,-0.631],[0.415,-0.620],[0.417,-0.629],[0.422,-0.623],[0.426,-0.632],[0.429,-0.621],[0.437,-0.628],[0.443,-0.624],
[0.399,-0.662],[0.401,-0.671],[0.411,-0.660],[0.415,-0.669],[0.422,-0.663],[0.427,-0.672],[0.432,-0.661],[0.434,-0.668],
[0.396,-0.688],[0.401,-0.697],[0.405,-0.686],[0.408,-0.695],[0.413,-0.689],[0.417,-0.698],[0.424,-0.687],[0.424,-0.696],[0.446,-0.690],
[0.402,-0.735],[0.403,-0.744],[0.413,-0.733],[0.432,-0.742],[0.446,-0.736],
[0.402,-0.762],[0.418,-0.771],[0.419,-0.760],[0.428,-0.769],[0.432,-0.763],[0.434,-0.770],
[0.407,-0.815],[0.408,-0.824],[0.413,-0.813],[0.415,-0.822],[0.420,-0.816],[0.424,-0.825],[0.424,-0.814],[0.425,-0.821],[0.431,-0.817],[0.437,-0.823],[0.439,-0.812],[0.441,-0.820],[0.456,-0.815],
[0.401,-0.861],[0.405,-0.870],[0.408,-0.859],[0.413,-0.868],[0.422,-0.862],[0.423,-0.871],[0.427,-0.860],[0.427,-0.867],[0.432,-0.863],
[0.401,-0.894],[0.405,-0.903],[0.408,-0.892],[0.410,-0.901],[0.413,-0.895],[0.419,-0.904],[0.423,-0.893],[0.424,-0.900],
[0.396,-0.927],[0.397,-0.936],[0.398,-0.925],[0.401,-0.934],[0.403,-0.928],[0.405,-0.937],[0.408,-0.926],[0.409,-0.933],[0.417,-0.929],[0.419,-0.935],[0.424,-0.924],
[0.394,-0.967],[0.396,-0.976],[0.405,-0.965],[0.412,-0.974],[0.415,-0.968],[0.417,-0.977],[0.419,-0.966],[0.424,-0.973],[0.442,-0.969],
[0.399,-0.044],[0.403,-0.053],[0.406,-0.042],[0.411,-0.051],[0.415,-0.046],[0.420,-0.054],[0.424,-0.043],[0.429,-0.052],[0.434,-0.045],[0.439,-0.050],[0.443,-0.042],[0.449,-0.053],
[0.396,-0.080],[0.400,-0.089],[0.404,-0.078],[0.409,-0.087],[0.412,-0.082],[0.417,-0.090],[0.422,-0.079],[0.425,-0.088],[0.430,-0.081],[0.433,-0.086],[0.437,-0.078],[0.442,-0.089],[0.446,-0.080],
[0.397,-0.120],[0.401,-0.129],[0.406,-0.118],[0.410,-0.127],[0.413,-0.122],[0.417,-0.130],[0.420,-0.119],[0.424,-0.128],[0.427,-0.121],[0.432,-0.126],[0.437,-0.118],[0.443,-0.129],[0.450,-0.120],
[0.396,-0.160],[0.400,-0.169],[0.405,-0.158],[0.409,-0.167],[0.414,-0.162],[0.417,-0.170],[0.422,-0.159],[0.426,-0.168],[0.430,-0.161],[0.436,-0.166],[0.440,-0.158],[0.445,-0.169],
[0.397,-0.200],[0.402,-0.209],[0.406,-0.198],[0.410,-0.207],[0.414,-0.202],[0.418,-0.210],[0.423,-0.199],[0.427,-0.208],[0.431,-0.201],[0.434,-0.206],[0.441,-0.198],[0.446,-0.209],
[0.396,-0.240],[0.401,-0.249],[0.406,-0.238],[0.411,-0.247],[0.414,-0.242],[0.419,-0.250],[0.423,-0.239],[0.427,-0.248],[0.432,-0.241],[0.437,-0.246],[0.442,-0.238],[0.450,-0.249],
[0.398,-0.286],[0.403,-0.295],[0.407,-0.284],[0.411,-0.293],[0.415,-0.288],[0.420,-0.296],[0.425,-0.285],[0.430,-0.294],[0.434,-0.287],[0.438,-0.292],[0.443,-0.284],
[0.397,-0.339],[0.401,-0.348],[0.406,-0.337],[0.410,-0.346],[0.415,-0.341],[0.418,-0.349],[0.421,-0.338],[0.427,-0.347],[0.432,-0.340],[0.436,-0.345],[0.440,-0.337],
[0.398,-0.386],[0.402,-0.395],[0.407,-0.384],[0.411,-0.393],[0.416,-0.388],[0.421,-0.396],[0.426,-0.385],[0.431,-0.394],[0.435,-0.387],[0.443,-0.392],
[0.399,-0.426],[0.404,-0.435],[0.410,-0.424],[0.415,-0.433],[0.419,-0.428],[0.425,-0.436],[0.431,-0.425],[0.438,-0.434],
[0.4569,-0.062],[0.4592,-0.022],[0.4592,-0.042],[0.4621,-0.048],[0.4633,-0.068],[0.4671,-0.022],[0.4575,-0.108],[0.4624,-0.108],[0.4691,-0.108],[0.4778,-0.101],[0.4797,-0.015],[0.4916,-0.101],[0.4925,-0.168],[0.5032,-0.214],[0.4578,-0.161],[0.4615,-0.181],[0.4641,-0.168],[0.4647,-0.181],[0.4749,-0.174],[0.4575,-0.228],[0.4641,-0.248],[0.4575,-0.287],[0.4586,-0.274],[0.4589,-0.294],[0.4598,-0.314],[0.4615,-0.327],[0.4615,-0.34],[0.4665,-0.334],[0.4636,-0.367],[0.4644,-0.394],[0.4566,-0.42],[0.4733,-0.267],[0.4736,-0.327],[0.4727,-0.407],[0.4739,-0.407],[0.4797,-0.234],[0.4812,-0.354],[0.4797,-0.42],[0.4688,-0.586],[0.4783,-0.573],[0.4809,-0.619],[0.4812,-0.659],[0.4942,-0.546],[0.4595,-0.666],[0.4723,-0.749],[0.4864,-0.779],[0.4916,-0.732],[0.4656,-0.876],[0.4563,-0.818],[0.4607,-0.989]
];

const font = { family: "'DejaVu Sans', 'Liberation Sans', sans-serif", size: 25 };

const toXY = (xs, ys) => xs.map((x, i) => ({ x: x, y: ys[i] }));

// matplotlib style frame with inward ticks on all sides
const frameTicks = {
  id: 'frameTicks',
  afterDatasetsDraw(chart) {
    const { ctx, chartArea: a, scales } = chart;
    ctx.save();
    ctx.strokeStyle = '#000';
    ctx.lineWidth = 1.5;
    ctx.beginPath();
    xTicks.forEach(v => {
      const px = Math.round(scales.x.getPixelForValue(v)) + 0.5;
      ctx.moveTo(px, a.bottom); ctx.lineTo(px, a.bottom - 10);
      ctx.moveTo(px, a.top); ctx.lineTo(px, a.top + 10);
    });
    yTicks.forEach(v => {
      const py = Math.round(scales.y.getPixelForValue(v)) + 0.5;
      ctx.moveTo(a.left, py); ctx.lineTo(a.left + 10, py);
      ctx.moveTo(a.right, py); ctx.lineTo(a.right - 10, py);
    });
    ctx.stroke();
    ctx.lineWidth = 2;
    ctx.strokeRect(a.left, a.top, a.right - a.left, a.bottom - a.top);
    ctx.restore();
  }
};

const noPad = s => { s.paddingTop = 0; s.paddingBottom = 0; s.paddingLeft = 0; s.paddingRight = 0; };

const data = {
  datasets: [
    {
      label: 'highlight',
      data: toXY(circleDix, circleReturns),
      pointRadius: 34,
      pointHoverRadius: 34,
      pointBorderWidth: 8,
      pointBorderColor: '#78b743',
      pointBackgroundColor: 'rgba(0,0,0,0)',
      order: 0
    },
    {
      label: 'blue',
      data: toXY(blueDix, blueReturns),
      showLine: true,
      borderColor: '#4682b4',
      borderWidth: 5,
      borderJoinStyle: 'round',
      pointRadius: 0,
      tension: 0,
      order: 1
    },
    {
      label: 'red',
      data: toXY(redDix, redReturns),
      showLine: true,
      borderColor: '#ff0000',
      borderWidth: 2,
      borderJoinStyle: 'round',
      pointRadius: 0,
      tension: 0,
      order: 2
    },
    {
      label: 'obs',
      data: scatterPoints.map(p => ({ x: p[0], y: p[1] })),
      pointStyle: 'cross',
      pointRadius: 2.6,
      pointBorderWidth: 1.2,
      pointBorderColor: 'rgba(40,40,40,0.75)',
      pointBackgroundColor: 'rgba(40,40,40,0.75)',
      order: 3
    }
  ]
};

const options = {
  responsive: false,
  animation: false,
  devicePixelRatio: 1,
  layout: { autoPadding: false, padding: { top: 9, right: 1, left: 0, bottom: 0 } },
  plugins: { legend: { display: false }, tooltip: { enabled: false } },
  scales: {
    x: {
      type: 'linear',
      min: 0.3407,
      max: 0.5189,
      afterBuildTicks: s => { s.ticks = xTicks.map(v => ({ value: v })); },
      afterFit: s => { s.height = 80; noPad(s); },
      grid: { display: false, drawTicks: false },
      border: { display: false },
      ticks: {
        autoSkip: false, maxRotation: 0, padding: 8, color: '#000', font: font,
        callback: (v, i) => xTickLabels[i]
      },
      title: { display: true, text: 'DIX', color: '#000', font: font, padding: { top: 0, bottom: 4 } }
    },
    y: {
      type: 'linear',
      min: -0.995,
      max: 2.18,
      afterBuildTicks: s => { s.ticks = yTicks.map(v => ({ value: v })); },
      afterFit: s => { s.width = 133; noPad(s); },
      grid: { display: false, drawTicks: false },
      border: { display: false },
      ticks: {
        autoSkip: false, padding: 15, color: '#000', font: font,
        callback: (v, i) => yTickLabels[i]
      },
      title: { display: true, text: '1-month returns (MAD)', color: '#000', font: font, padding: { top: 15, bottom: 0 } }
    }
  }
};

const myChart = new Chart(document.querySelector('#myChart'), {
  type: 'scatter',
  data: data,
  options: options,
  plugins: [frameTicks]
});
</script>
</body>
</html>
